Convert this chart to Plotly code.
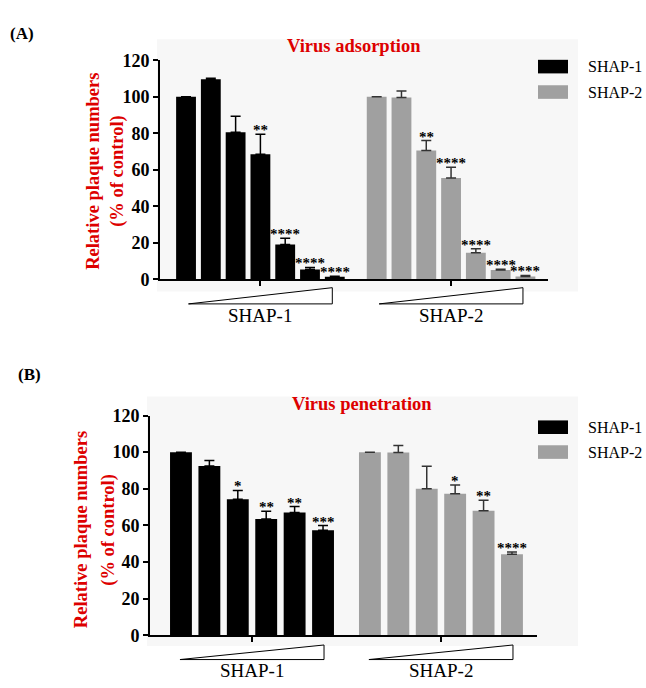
import plotly.graph_objects as go

# ---------------- data ----------------
groups = ["SHAP-1", "SHAP-2"]

adsorption_shap1 = [100, 109.5, 80.5, 68.5, 19.0, 5.3, 1.3]
adsorption_shap1_err = [0, 0.6, 8.8, 11.0, 3.5, 1.2, 0.4]
adsorption_shap1_sig = ["", "", "", "**", "****", "****", "****"]

adsorption_shap2 = [100, 99.6, 70.5, 55.5, 14.5, 5.0, 1.5]
adsorption_shap2_err = [0, 3.5, 5.5, 5.8, 2.2, 0.5, 0.6]
adsorption_shap2_sig = ["", "", "**", "****", "****", "****", "****"]

penetration_shap1 = [100, 92.5, 74.3, 63.5, 67.0, 57.3]
penetration_shap1_err = [0, 3.0, 4.8, 4.2, 3.3, 2.6]
penetration_shap1_sig = ["", "", "*", "**", "**", "***"]

penetration_shap2 = [100, 99.8, 80.0, 77.3, 68.0, 44.3]
penetration_shap2_err = [0, 3.8, 12.3, 4.8, 5.8, 1.2]
penetration_shap2_sig = ["", "", "", "*", "**", "****"]

y_ticks = [0, 20, 40, 60, 80, 100, 120]
panel_titles = ["Virus adsorption", "Virus penetration"]
panel_letters = ["(A)", "(B)"]
y_title_lines = ["Relative plaque numbers", "(% of control)"]

# ---------------- styling ----------------
W, H = 646, 688
SERIF = "Liberation Serif, Times New Roman, serif"
RED = "#dd0000"
COLORS = ["#000000", "#a0a0a0"]
ERR_COLORS = ["#000000", "#333333"]


def px(x):
    return x / W


def py(y):
    return 1 - y / H


fig = go.Figure()
annotations = []
shapes = []

panels = [
    dict(values=[adsorption_shap1, adsorption_shap2],
         errs=[adsorption_shap1_err, adsorption_shap2_err],
         sigs=[adsorption_shap1_sig, adsorption_shap2_sig],
         xdom=(160, 548), ydom=(277.3, 51.7), gap=1.69, bw=0.8,
         xrange=(-1.05, 14.6), tri_w=5.8, tri_y=(302.7, 286), label_y=315,
         title_xy=(354, 37), letter_xy=(22, 24),
         ytitle_x=(92.7, 116.7), ytitle_y=166,
         bg=(157, 30, 578, 290),
         legend_rows=(58.3, 84.5), suffix=""),
    dict(values=[penetration_shap1, penetration_shap2],
         errs=[penetration_shap1_err, penetration_shap2_err],
         sigs=[penetration_shap1_sig, penetration_shap2_sig],
         xdom=(150, 536.7), ydom=(644, 417.7), gap=1.65, bw=0.77,
         xrange=(-1.09, 12.52), tri_w=5.07, tri_y=(669, 654), label_y=680,
         title_xy=(362, 406), letter_xy=(29, 375),
         ytitle_x=(81.7, 108.3), ytitle_y=535,
         bg=(147, 398, 578, 655),
         legend_rows=(429.7, 455.3), suffix="2"),
]

for p_i, P in enumerate(panels):
    xa = "x" + P["suffix"]
    ya = "y" + P["suffix"]
    n = len(P["values"][0])
    offsets = [0, n - 1 + P["gap"]]
    centers = []
    for g, vals in enumerate(P["values"]):
        xs = [offsets[g] + i for i in range(n)]
        centers.append(offsets[g] + (n - 1) / 2)
        fig.add_trace(go.Bar(
            x=xs, y=vals, width=P["bw"], name=groups[g],
            marker=dict(color=COLORS[g], line=dict(width=0)),
            error_y=dict(type="data", symmetric=False, array=P["errs"][g],
                         arrayminus=[0] * n, color=ERR_COLORS[g],
                         thickness=1.5, width=5),
            xaxis=xa, yaxis=ya, showlegend=False,
        ))
        for i in range(n):
            if P["sigs"][g][i]:
                annotations.append(dict(
                    x=xs[i], y=vals[i] + P["errs"][g][i], xref=xa, yref=ya,
                    text=P["sigs"][g][i], showarrow=False,
                    xanchor="center", yanchor="middle", yshift=4,
                    font=dict(family=SERIF, size=15, color="black", weight="bold")))
        # triangle (increasing concentration)
        c = centers[g]
        x0 = c - P["tri_w"] / 2
        x1 = c + P["tri_w"] / 2
        yb, yt = py(P["tri_y"][0]), py(P["tri_y"][1])
        shapes.append(dict(type="path", xref=xa, yref="paper",
                           path=f"M {x0},{yb} L {x1},{yt} L {x1},{yb} Z",
                           line=dict(color="black", width=1), fillcolor="white"))
        annotations.append(dict(x=c, y=py(P["label_y"]), xref=xa, yref="paper",
                                text=groups[g], showarrow=False,
                                xanchor="center", yanchor="middle",
                                font=dict(family=SERIF, size=19, color="black")))
        # legend rows
        ry = P["legend_rows"][g]
        shapes.append(dict(type="rect", xref="paper", yref="paper",
                           x0=px(538), x1=px(568), y0=py(ry - 7), y1=py(ry + 7),
                           fillcolor=COLORS[g], line=dict(width=0)))
        annotations.append(dict(x=px(586), y=py(ry), xref="paper", yref="paper",
                                text=groups[g], showarrow=False,
                                xanchor="left", yanchor="middle",
                                font=dict(family=SERIF, size=16, color="black")))

    # light background area
    bx0, by0, bx1, by1 = P["bg"]
    shapes.append(dict(type="rect", xref="paper", yref="paper", layer="below",
                       x0=px(bx0), x1=px(bx1), y0=py(by1), y1=py(by0),
                       fillcolor="#f7f7f7", line=dict(width=0)))

    axis_common = dict(showgrid=False, zeroline=False, showline=True,
                       linecolor="black", linewidth=2, ticks="outside",
                       ticklen=5, tickwidth=2, tickcolor="black")
    fig.layout["xaxis" + P["suffix"]] = dict(
        domain=[px(P["xdom"][0]), px(P["xdom"][1])], range=list(P["xrange"]),
        anchor=ya, tickvals=centers, ticktext=["", ""], showticklabels=False,
        fixedrange=True, **axis_common)
    fig.layout["yaxis" + P["suffix"]] = dict(
        domain=[py(P["ydom"][0]), py(P["ydom"][1])], range=[0, 120],
        anchor=xa, tickvals=y_ticks,
        tickfont=dict(family=SERIF, size=18, color="black", weight="bold"),
        fixedrange=True, **axis_common)

    # titles and labels
    annotations.append(dict(x=px(P["title_xy"][0]), y=py(P["title_xy"][1]),
                            xref="paper", yref="paper", text=panel_titles[p_i],
                            showarrow=False, xanchor="center", yanchor="middle",
                            font=dict(family=SERIF, size=18.5, color=RED, weight="bold")))
    annotations.append(dict(x=px(P["letter_xy"][0]), y=py(P["letter_xy"][1]),
                            xref="paper", yref="paper", text=panel_letters[p_i],
                            showarrow=False, xanchor="center", yanchor="middle",
                            font=dict(family=SERIF, size=17, color="black", weight="bold")))
    for k, line in enumerate(y_title_lines):
        annotations.append(dict(x=px(P["ytitle_x"][k]), y=py(P["ytitle_y"]),
                                xref="paper", yref="paper", text=line,
                                textangle=-90, showarrow=False,
                                xanchor="center", yanchor="middle",
                                font=dict(family=SERIF, size=18.5, color=RED, weight="bold")))

fig.update_layout(
    width=W, height=H, margin=dict(l=0, r=0, t=0, b=0),
    paper_bgcolor="white", plot_bgcolor="rgba(0,0,0,0)",
    barmode="overlay", showlegend=False,
    annotations=annotations, shapes=shapes,
)

# remove the browser's default 8px page margin so the figure sits at (0, 0)
fig.write_html("out.html", post_script="document.body.style.margin='0';",
               config={"displayModeBar": False})
